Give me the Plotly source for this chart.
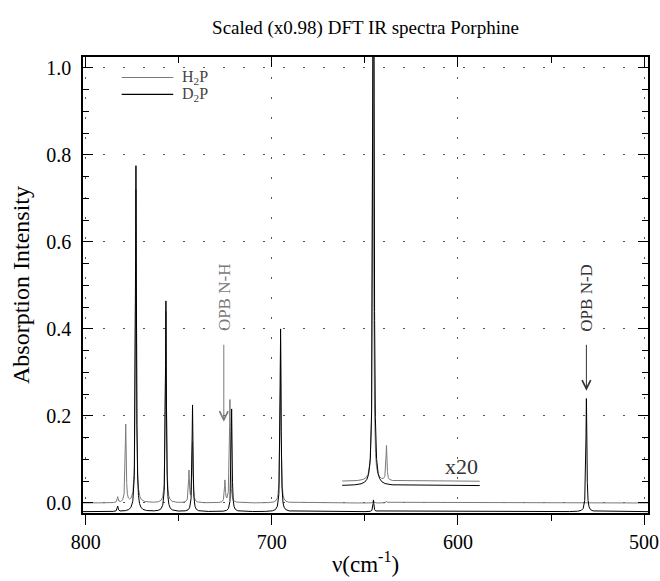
import numpy as np
import plotly.graph_objects as go

# ---- data (band positions in cm-1, peak intensities) ----
h2p_pos = [782.8, 778.5, 773.0, 756.9, 744.5, 742.6, 725.2, 722.5, 695.3, 645.6, 638.4]
h2p_int = [0.013, 0.179, 0.72, 0.44, 0.072, 0.138, 0.05, 0.237, 0.375, 0.003, 0.004]
d2p_pos = [782.8, 773.0, 756.9, 742.6, 721.6, 695.3, 645.4, 531.0]
d2p_int = [0.012, 0.795, 0.484, 0.245, 0.236, 0.42, 0.027, 0.26]
d2p_offset = -0.02

# x20 magnified window
inset_lo, inset_hi = 588.3, 662.2
inset_h2p_pos = [645.6, 638.4]
inset_h2p_int = [1.3, 0.08]
inset_h2p_base = 0.05
inset_d2p_pos = [645.4]
inset_d2p_int = [2.0]
inset_d2p_base = 0.04

hwhm = 0.3  # Lorentzian half width used for band broadening

x_ticks = [800, 700, 600, 500]
y_ticks = [0.0, 0.2, 0.4, 0.6, 0.8, 1.0]

FONT = "Liberation Serif"
GRAY = "#7a7a7a"


def spectrum(lo, hi, pos, inten):
    grid = np.union1d(np.arange(lo, hi, 0.02), np.array([p for p in pos if lo <= p <= hi]))
    y = np.zeros_like(grid)
    for p, a in zip(pos, inten):
        y += a * hwhm**2 / ((grid - p) ** 2 + hwhm**2)
    return grid, y


xh, yh = spectrum(497.0, 802.0, h2p_pos, h2p_int)
xd, yd = spectrum(497.0, 802.0, d2p_pos, d2p_int)
xih, yih = spectrum(inset_lo, inset_hi, inset_h2p_pos, inset_h2p_int)
xid, yid = spectrum(inset_lo, inset_hi, inset_d2p_pos, inset_d2p_int)

fig = go.Figure()
fig.add_trace(go.Scatter(x=xh, y=yh, mode="lines", line=dict(color=GRAY, width=1), showlegend=False))
fig.add_trace(go.Scatter(x=xd, y=yd + d2p_offset, mode="lines", line=dict(color="black", width=1), showlegend=False))
fig.add_trace(go.Scatter(x=xih, y=yih + inset_h2p_base, mode="lines", line=dict(color=GRAY, width=1), showlegend=False))
fig.add_trace(go.Scatter(x=xid, y=yid + inset_d2p_base, mode="lines", line=dict(color="black", width=1), showlegend=False))
# helper for top-axis ticks
fig.add_trace(go.Scatter(x=[], y=[], xaxis="x2", showlegend=False))

xr = [801.45, 497.9]
yr = [-0.023, 1.025]
GRID = dict(showgrid=True, gridcolor="#555555", gridwidth=1, griddash="1.5px,18.5px")

fig.update_layout(
    width=660, height=581,
    margin=dict(l=83, r=11.5, t=57, b=68),
    paper_bgcolor="white", plot_bgcolor="white",
    font=dict(family=FONT, color="black", size=20),
    title=dict(text="Scaled (x0.98) DFT IR spectra Porphine", font=dict(size=19),
               x=0.5, xref="paper", xanchor="center", y=1 - 27 / 581, yref="container", yanchor="middle"),
    xaxis=dict(range=xr, tickvals=x_ticks, ticks="outside", ticklen=10, tickwidth=1, tickcolor="black",
               minor=dict(dtick=50, tick0=500, ticks="outside", ticklen=6, tickcolor="black"),
               showline=True, linecolor="black", linewidth=1.5, mirror=True, automargin=False,
               zeroline=False, tickfont=dict(size=20), **GRID,
               title=dict(text="ν(cm<sup>-1</sup>)", font=dict(size=23), standoff=4)),
    xaxis2=dict(range=xr, overlaying="x", side="top", anchor="y", tickvals=x_ticks, ticks="inside",
                ticklen=10, tickcolor="black", showticklabels=False, showgrid=False, showline=False,
                zeroline=False, automargin=False,
                minor=dict(dtick=50, tick0=500, ticks="inside", ticklen=6, tickcolor="black")),
    yaxis=dict(range=yr, tickvals=y_ticks, tickformat=".1f", ticks="inside", ticklen=10, tickcolor="black",
               minor=dict(dtick=0.05, tick0=0, ticks="inside", ticklen=6, tickcolor="black"),
               showline=True, linecolor="black", linewidth=1.5, mirror="ticks", automargin=False,
               zeroline=False, tickfont=dict(size=20), ticklabelstandoff=6, **GRID,
               title=dict(text="Absorption Intensity", font=dict(size=24), standoff=10)),
)

# custom legend
leg = [("H<sub>2</sub>P", GRAY, 0.955), ("D<sub>2</sub>P", "black", 0.918)]
for label, col, yy in leg:
    fig.add_shape(type="line", xref="paper", yref="paper", x0=0.0684, x1=0.1597, y0=yy, y1=yy,
                  line=dict(color=col, width=1.2))
    fig.add_annotation(xref="paper", yref="paper", x=0.1715, y=yy, text=label, showarrow=False,
                       xanchor="left", yanchor="middle", font=dict(size=16, color="#444"))

# x20 label
fig.add_annotation(x=inset_lo, y=inset_h2p_base, text="x20", showarrow=False, xanchor="right",
                   yanchor="bottom", font=dict(size=22, color="#333"))

# band assignments with arrows
arrows = [("OPB N-H", 725.8, 0.187, GRAY), ("OPB N-D", 531.0, 0.258, "#333333")]
for txt, xx, tip, col in arrows:
    fig.add_annotation(x=xx, y=tip, ax=xx, ay=0.367, axref="x", ayref="y", text="", showarrow=True,
                       arrowhead=5, arrowsize=1.7, arrowwidth=1, arrowcolor=col, standoff=0)
    fig.add_annotation(x=xx, y=0.39, text=txt, showarrow=False, textangle=-90, xanchor="center",
                       yanchor="bottom", font=dict(size=17, color=col))

fig.write_html("out.html")
